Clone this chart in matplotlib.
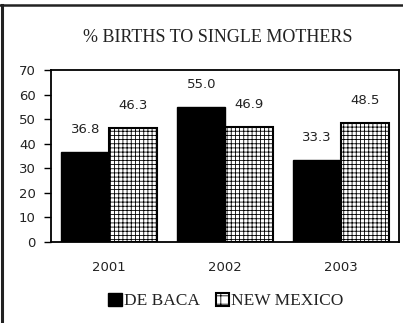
import matplotlib
matplotlib.use("Agg")
import matplotlib.pyplot as plt
import numpy as np
from matplotlib.patches import Patch
from matplotlib.lines import Line2D

years = ["2001", "2002", "2003"]
de_baca = [36.8, 55.0, 33.3]
new_mexico = [46.3, 46.9, 48.5]
yticks = [0, 10, 20, 30, 40, 50, 60, 70]
title = "% BIRTHS TO SINGLE MOTHERS"
series_names = ["DE BACA", "NEW MEXICO"]

plt.rcParams['hatch.linewidth'] = 0.6
plt.rcParams['hatch.color'] = 'black'

fig = plt.figure(figsize=(4.03, 3.23), dpi=100)
fig.patch.set_facecolor('white')
ax = fig.add_axes([51/403, 1-242/323, 348/403, 172/323])

x = np.arange(len(years))
w = 0.41
b1 = ax.bar(x - w/2, de_baca, w, color='black', edgecolor='black', linewidth=1.0)
b2 = ax.bar(x + w/2, new_mexico, w, color='white', edgecolor='black', linewidth=1.5, hatch='++++')

for bars, vals in ((b1, de_baca), (b2, new_mexico)):
    for r, v in zip(bars, vals):
        ax.annotate(f"{v:.1f}", (r.get_x() + r.get_width()/2, v), xytext=(0, 11.5),
                    textcoords='offset points', ha='center', va='bottom',
                    fontsize=9.5, color='#222222', family='DejaVu Sans')

ax.set_xlim(-0.5, 2.5)
ax.set_ylim(0, 70)
ax.set_yticks(yticks)
ax.set_yticklabels([str(t) for t in yticks], fontsize=9.5, color='#222222')
ax.set_xticks(x)
ax.set_xticklabels(years, fontsize=9.5, color='#222222')
ax.tick_params(axis='x', length=0, pad=14)
ax.tick_params(axis='y', length=5, width=1.0, pad=6, direction='out')
for s in ax.spines.values():
    s.set_linewidth(1.3)
    s.set_color('black')

fig.text(218/403, 1-38/323, title, ha='center', va='center', fontsize=13,
         family='Liberation Serif', color='#222222')

handles = [Patch(facecolor='black', edgecolor='black'),
           Patch(facecolor='white', edgecolor='black', hatch='++', linewidth=1.5)]
leg = fig.legend(handles, series_names, loc='center', bbox_to_anchor=(226/403, 1-301/323),
                 ncol=2, frameon=False, handlelength=0.8, handleheight=0.8,
                 handletextpad=0.1, columnspacing=0.9,
                 prop={'family': 'Liberation Serif', 'size': 12.5})
for t in leg.get_texts():
    t.set_color('#222222')

# figure frame lines (top and left)
fig.add_artist(Line2D([0, 1], [1-5/323, 1-5/323], transform=fig.transFigure, color='#222222', linewidth=1.8))
fig.add_artist(Line2D([1.5/403, 1.5/403], [0, 1-5/323], transform=fig.transFigure, color='#222222', linewidth=2.2))

fig.savefig("out.png", dpi=100)
